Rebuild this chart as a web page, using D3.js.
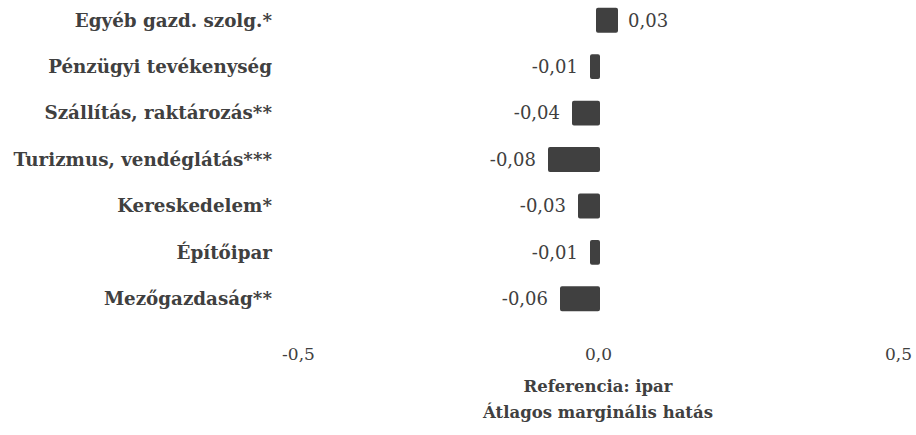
<!DOCTYPE html>
<html><head><meta charset="utf-8">
<script src="https://cdn.jsdelivr.net/npm/d3@7"></script>
<style>body{margin:0;background:#fff}svg{display:block}text{font-family:"DejaVu Serif",serif;fill:#404040}</style>
</head><body>
<script>
const categories = ["Egyéb gazd. szolg.*","Pénzügyi tevékenység","Szállítás, raktározás**","Turizmus, vendéglátás***","Kereskedelem*","Építőipar","Mezőgazdaság**"];
const values = [0.03,-0.01,-0.04,-0.08,-0.03,-0.01,-0.06];
const valueLabels = ["0,03","-0,01","-0,04","-0,08","-0,03","-0,01","-0,06"];
const ticks = [-0.5,0,0.5];
const tickLabels = ["-0,5","0,0","0,5"];
const titleLines = ["Referencia: ipar","Átlagos marginális hatás"];

const W=916,H=435;
const svg=d3.select("body").append("svg").attr("width",W).attr("height",H);
const x=d3.scaleLinear().domain([-0.5,0.5]).range([298,898]);
const y=d3.scaleBand().domain(categories).range([-3,322]).paddingInner(0.55).paddingOuter(0.275);

svg.selectAll("rect.bar").data(values).join("rect").attr("class","bar")
 .attr("x",d=>x(Math.min(0,d))).attr("width",d=>Math.abs(x(d)-x(0)))
 .attr("y",(d,i)=>y(categories[i])).attr("height",y.bandwidth())
 .attr("fill","#404040").attr("stroke","#404040").attr("stroke-width",4).attr("stroke-linejoin","round");

svg.selectAll("text.val").data(values).join("text").attr("class","val")
 .attr("x",d=>d<0?x(d)-14:x(d)+12)
 .attr("y",(d,i)=>y(categories[i])+y.bandwidth()/2)
 .attr("dy","0.35em").attr("text-anchor",d=>d<0?"end":"start")
 .style("font-size","18px").text((d,i)=>valueLabels[i]);

svg.selectAll("text.cat").data(categories).join("text").attr("class","cat")
 .attr("x",272).attr("y",d=>y(d)+y.bandwidth()/2).attr("dy","0.35em")
 .attr("text-anchor","end").style("font-size","18.3px").style("font-weight","bold").text(d=>d);

const ax=svg.append("g").attr("transform","translate(0,354)")
 .call(d3.axisBottom(x).tickValues(ticks).tickFormat((d,i)=>tickLabels[i]).tickSize(0).tickPadding(0));
ax.select(".domain").remove();
ax.selectAll("text").attr("dy","0.35em").attr("y",0).style("font-size","17px").style("font-family","DejaVu Serif, serif").attr("fill","#404040");

svg.selectAll("text.title").data(titleLines).join("text").attr("class","title")
 .attr("x",x(0)).attr("y",(d,i)=>386+i*26).attr("dy","0.35em").attr("text-anchor","middle")
 .style("font-size","16.5px").style("font-weight","bold").text(d=>d);
</script>
</body></html>
